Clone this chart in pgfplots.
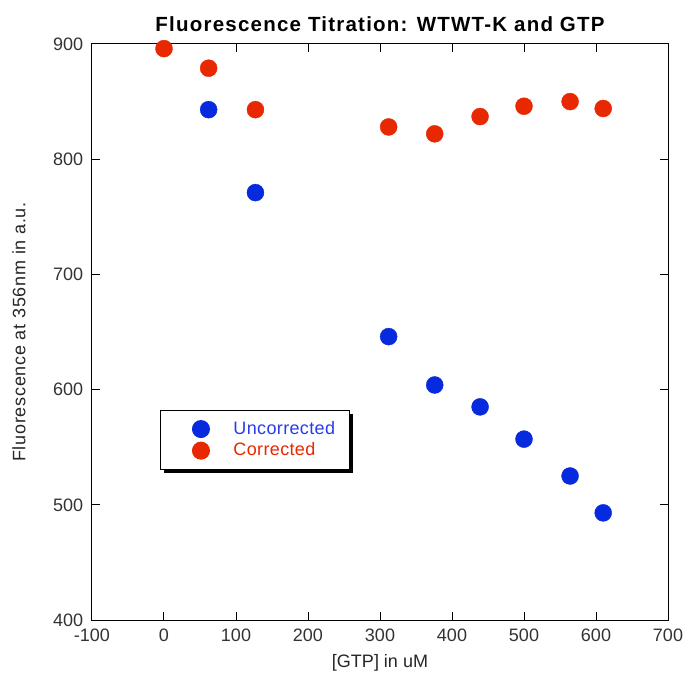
\documentclass[border=0pt]{standalone}
\usepackage{pgfplots}
\pgfplotsset{compat=1.18}
\usepackage{fontspec}
\setmainfont{Liberation Sans}
\usetikzlibrary{shadows}
\definecolor{myblue}{RGB}{8,42,222}
\definecolor{myred}{RGB}{232,40,0}
\definecolor{txtblue}{RGB}{40,60,235}
\begin{document}
\fontsize{17}{20}\selectfont
\begin{tikzpicture}
\begin{axis}[
  name=main,
  scale only axis,
  width=576pt, height=576pt,
  xmin=-100, xmax=700, ymin=400, ymax=900,
  xtick={-100,0,...,700}, ytick={400,500,...,900},
  tick align=inside, major tick length=8pt,
  tick style={line width=1pt, black},
  axis line style={line width=1pt},
  /pgf/number format/assume math mode=true,
  ticklabel style={font=\fontsize{18}{21}\selectfont, text=black!80},
  xticklabel style={yshift=-3pt},
  yticklabel style={xshift=-3pt},
  title={\bfseries\addfontfeature{LetterSpace=6}Fluorescence Titration: WTWT-K and GTP},
  title style={font=\fontsize{20.5}{24}\selectfont, yshift=0pt},
  xlabel={[GTP] in uM},
  ylabel={\addfontfeature{LetterSpace=4}Fluorescence at 356nm in a.u.},
  label style={font=\fontsize{18}{21}\selectfont, text=black!85},
  xlabel style={yshift=-1pt},
  ylabel style={yshift=16pt},
  legend style={at={(0.118,0.365)}, anchor=north west, draw=black, line width=1pt,
    fill=white, drop shadow={shadow xshift=4pt, shadow yshift=-4pt, fill=black, opacity=1},
    font=\fontsize{18}{21}\selectfont, inner xsep=12pt, inner ysep=9pt, row sep=2pt},
  legend cell align=left,
  legend image code/.code={\path (0pt,0pt); \draw[#1] plot coordinates {(28pt,0pt)};},
]
\addplot[only marks, mark=*, mark size=8.5pt, mark options={fill=myblue, draw=myblue}]
coordinates {(62,843) (127,771) (312,646) (376,604) (439,585) (500,557) (564,525) (610,493)};
\addlegendentry{\textcolor{txtblue}{\hspace{22pt}\addfontfeature{LetterSpace=2}Uncorrected}}
\addplot[only marks, mark=*, mark size=8.5pt, mark options={fill=myred, draw=myred}]
coordinates {(0,896) (62,879) (127,843) (312,828) (376,822) (439,837) (500,846) (564,850) (610,844)};
\addlegendentry{\textcolor{myred}{\hspace{22pt}\addfontfeature{LetterSpace=2}Corrected}}
\end{axis}
\pgfresetboundingbox
\path[use as bounding box] ([xshift=-92pt,yshift=-62pt]main.south west) rectangle ([xshift=18pt,yshift=44pt]main.north east);
\end{tikzpicture}
\end{document}
